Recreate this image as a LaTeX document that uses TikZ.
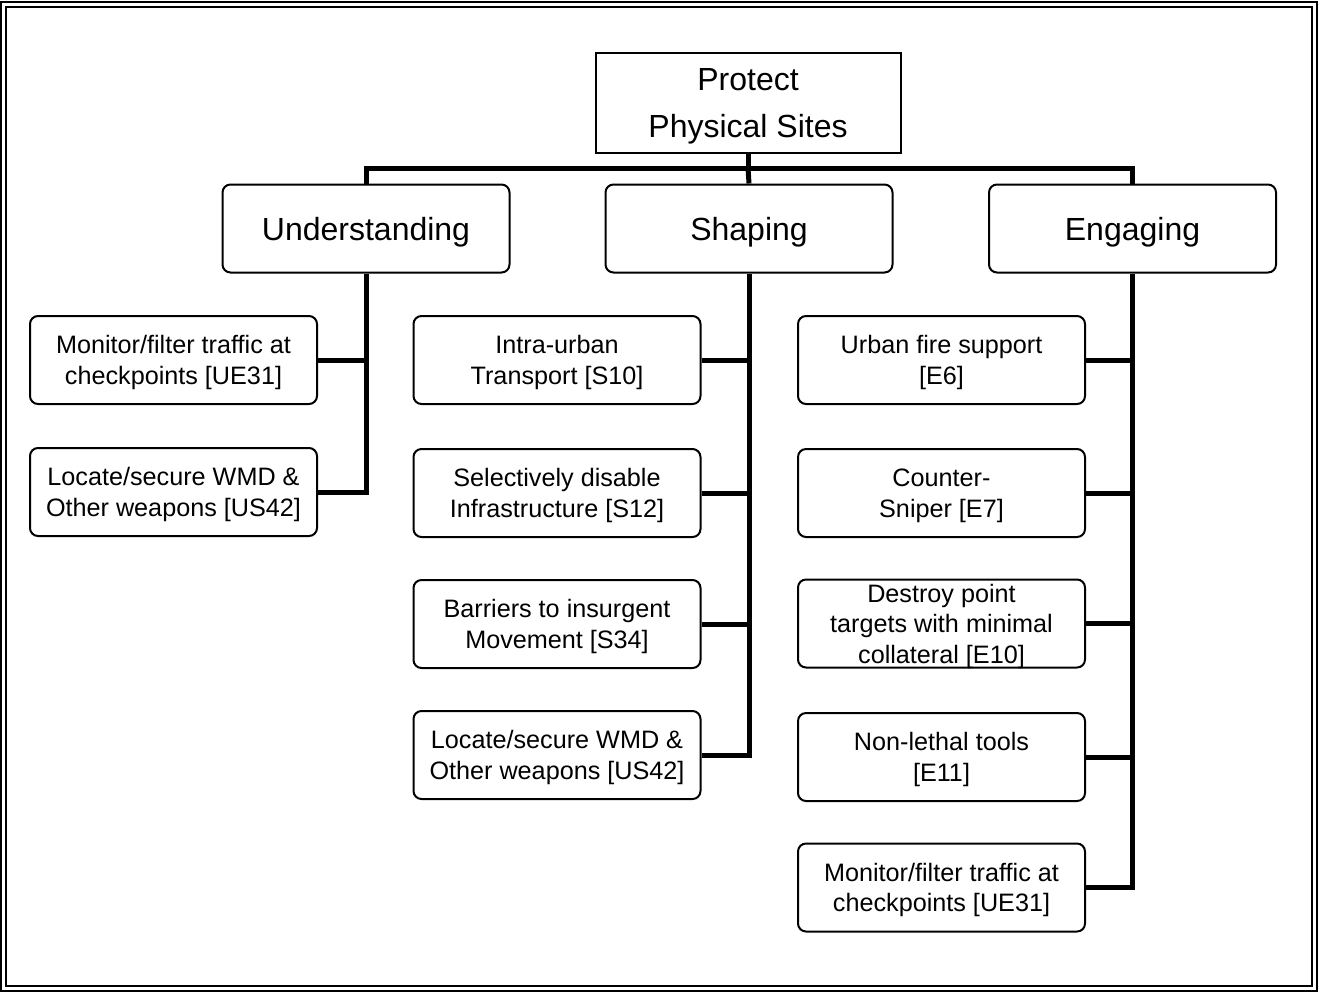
\documentclass[tikz,border=0pt]{standalone}
\usepackage{fontspec}
\setmainfont{Liberation Sans}

\begin{document}
\begin{tikzpicture}[x=0.5pt,y=-0.5pt,
  rootbox/.style={draw,line width=1pt,minimum width=152.5pt,minimum height=50pt,text depth=0pt,align=center,font=\fontsize{16}{23.5}\selectfont},
  catbox/.style={draw,line width=1pt,rounded corners=4pt,minimum width=143.5pt,minimum height=44pt,text depth=0pt,align=center,font=\fontsize{16}{20}\selectfont},
  taskbox/.style={draw,line width=1pt,rounded corners=4pt,minimum width=143.5pt,minimum height=44pt,inner sep=1pt,text depth=0pt,align=center,font=\fontsize{12.6}{15.3}\selectfont},
  bus/.style={line width=2.5pt}]
\useasboundingbox (0,0) rectangle (1325,992);
\draw[line width=1pt] (1,2.2) rectangle (1316.5,990.5);
\draw[line width=1.2pt] (6,7.2) rectangle (1312,986);

\node[rootbox] (PS) at (748,103) {Protect\\Physical Sites};
\node[catbox] (U) at (366,228.5) {Understanding};
\node[catbox] (S) at (749,228.5) {Shaping};
\node[catbox] (E) at (1132.5,228.5) {Engaging};

\node[taskbox] (U1) at (173.5,360) {Monitor/filter traffic at\\checkpoints [UE31]};
\node[taskbox] (U2) at (173.5,492) {Locate/secure WMD \&\\Other weapons [US42]};

\node[taskbox] (S1) at (557,360) {Intra-urban\\Transport [S10]};
\node[taskbox] (S2) at (557,493) {Selectively disable\\Infrastructure [S12]};
\node[taskbox] (S3) at (557,624) {Barriers to insurgent\\Movement [S34]};
\node[taskbox] (S4) at (557,755) {Locate/secure WMD \&\\Other weapons [US42]};

\node[taskbox] (E1) at (941.5,360) {Urban fire support\\{[E6]}};
\node[taskbox] (E2) at (941.5,493) {Counter-\\Sniper [E7]};
\node[taskbox] (E3) at (941.5,623.5) {Destroy point\\targets with minimal\\collateral [E10]};
\node[taskbox] (E4) at (941.5,757) {Non-lethal tools\\{[E11]}};
\node[taskbox] (E5) at (941.5,887.5) {Monitor/filter traffic at\\checkpoints [UE31]};

\coordinate (J) at (748,168);
\draw[bus] (PS) -- (J);
\draw[bus] (U.north) |- (J) -| (E.north);
\draw[bus] (J) -- (S.north);

\draw[bus] (U.south) |- (U2.east);
\draw[bus] (U1.east) -- (U1.east -| U.south);
\draw[bus] (S.south) |- (S4.east);
\foreach \t in {S1,S2,S3}
  \draw[bus] (\t.east) -- (\t.east -| S.south);
\draw[bus] (E.south) |- (E5.east);
\foreach \t in {E1,E2,E3,E4}
  \draw[bus] (\t.east) -- (\t.east -| E.south);
\end{tikzpicture}
\end{document}
